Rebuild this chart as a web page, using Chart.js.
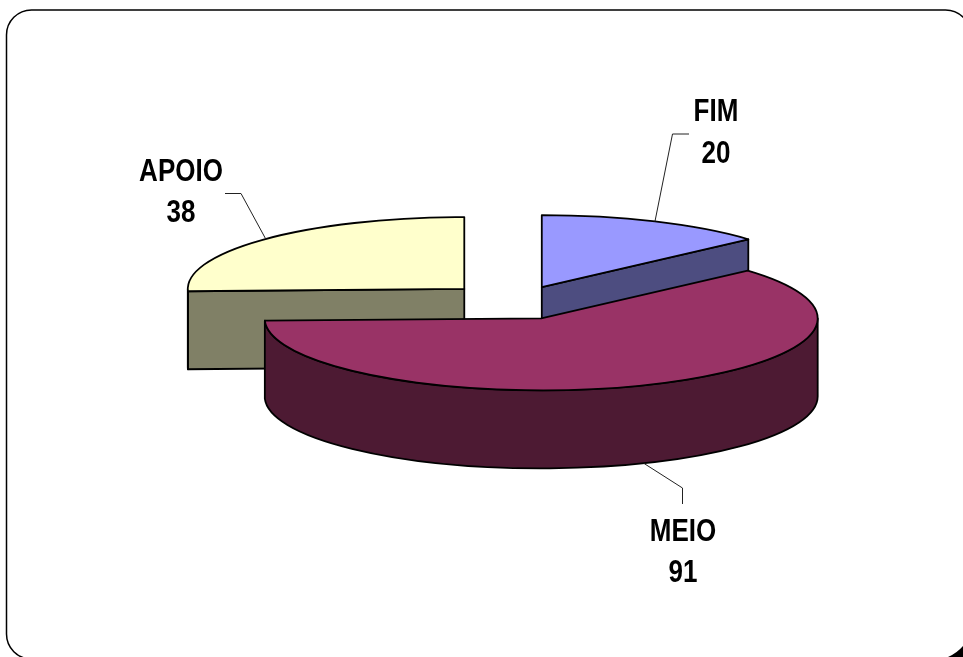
<!DOCTYPE html>
<html>
<head>
<meta charset="utf-8">
<style>
  html, body { margin: 0; padding: 0; background: #fff; }
  canvas { display: block; }
</style>
<script src="https://cdn.jsdelivr.net/npm/chart.js@4"></script>
</head>
<body>
<canvas id="chart" width="963" height="657"></canvas>
<script>
// Slices, clockwise from twelve o'clock
const categories = ['FIM', 'MEIO', 'APOIO'];
const values = [20, 91, 38];
const topColors = ['#9999FF', '#993366', '#FFFFCC'];
const wallColors = ['#4D4D80', '#4D1A33', '#808066'];
const explodeBy = [63, 68, 72];

// Leader line bends relative to each slice's anchor, and label centres
const leaderBends = [
  [[672.5, 134], [689, 134]],
  [[682.5, 488], [682.5, 504]],
  [[241, 193.5], [225, 193.5]]
];
const labelCentres = [[716, 113], [683, 532.5], [181, 172.5]];

const SQUASH = 0.26;    // vertical foreshortening of the disc
const DEPTH = 78;       // height of the extruded wall
const EDGE = 1.8;       // outline weight
const LINE_GAP = 41.5;  // distance between name and value lines
const TEXT_STRETCH = 1.18;

// Where a slice's tip lands once pulled away from the centre
function sliceGeometry(arc, i) {
  const mid = (arc.startAngle + arc.endAngle) / 2;
  const r = arc.outerRadius;
  return {
    ax: arc.x + Math.cos(mid) * explodeBy[i],
    ay: arc.y + Math.sin(mid) * explodeBy[i] * SQUASH,
    rx: r,
    ry: r * SQUASH,
    mid
  };
}

function strokeEdge(ctx) {
  ctx.strokeStyle = '#000';
  ctx.lineWidth = EDGE;
  ctx.lineJoin = 'round';
  ctx.stroke();
}

function drawRadialFace(ctx, g, angle, color) {
  const ex = g.ax + g.rx * Math.cos(angle);
  const ey = g.ay + g.ry * Math.sin(angle);
  ctx.beginPath();
  ctx.moveTo(g.ax, g.ay);
  ctx.lineTo(ex, ey);
  ctx.lineTo(ex, ey + DEPTH);
  ctx.lineTo(g.ax, g.ay + DEPTH);
  ctx.closePath();
  ctx.fillStyle = color;
  ctx.fill();
  strokeEdge(ctx);
}

function drawOuterWall(ctx, g, from, to, color) {
  ctx.beginPath();
  ctx.ellipse(g.ax, g.ay, g.rx, g.ry, 0, from, to);
  ctx.ellipse(g.ax, g.ay + DEPTH, g.rx, g.ry, 0, to, from, true);
  ctx.closePath();
  ctx.fillStyle = color;
  ctx.fill();
  strokeEdge(ctx);
}

const extrudedPie = {
  id: 'extrudedPie',
  beforeDraw(chart) {
    const ctx = chart.ctx;
    ctx.save();
    ctx.fillStyle = '#fff';
    ctx.fillRect(0, 0, chart.width, chart.height);
    // Rounded frame, running off the right and bottom of the page
    ctx.beginPath();
    ctx.roundRect(6.5, 10, 964, 649, 25);
    ctx.strokeStyle = '#000';
    ctx.lineWidth = 1.5;
    ctx.stroke();
    // Dark corner outside the frame at bottom right
    ctx.beginPath();
    ctx.moveTo(963, 657);
    ctx.lineTo(948, 657);
    ctx.quadraticCurveTo(957, 653, 963, 646);
    ctx.closePath();
    ctx.fillStyle = '#000';
    ctx.fill();
    ctx.restore();
  },
  beforeDatasetDraw(chart, args) {
    const ctx = chart.ctx;
    const arcs = args.meta.data;
    const order = [2, 0, 1];

    // Side walls first, so the top faces cover whatever they should hide
    order.forEach(i => {
      const arc = arcs[i];
      const g = sliceGeometry(arc, i);
      const s = arc.startAngle, e = arc.endAngle;
      if (-Math.cos(s) > 1e-3) drawRadialFace(ctx, g, s, wallColors[i]);
      if (Math.cos(e) > 1e-3) drawRadialFace(ctx, g, e, wallColors[i]);
      const from = Math.max(s, 0), to = Math.min(e, Math.PI);
      if (to > from) drawOuterWall(ctx, g, from, to, wallColors[i]);
    });

    // Top faces come from the library's arc elements, flattened about their tip
    order.forEach(i => {
      const arc = arcs[i];
      const g = sliceGeometry(arc, i);
      ctx.save();
      ctx.translate(g.ax, g.ay);
      ctx.scale(1, SQUASH);
      ctx.translate(-arc.x, -arc.y);
      arc.draw(ctx, chart.chartArea);
      ctx.restore();

      ctx.beginPath();
      ctx.moveTo(g.ax, g.ay);
      ctx.ellipse(g.ax, g.ay, g.rx, g.ry, 0, arc.startAngle, arc.endAngle);
      ctx.closePath();
      strokeEdge(ctx);
    });
    return false;
  },
  afterDatasetsDraw(chart) {
    const ctx = chart.ctx;
    const arcs = chart.getDatasetMeta(0).data;
    arcs.forEach((arc, i) => {
      const g = sliceGeometry(arc, i);
      const sx = g.ax + g.rx * Math.cos(g.mid);
      let sy = g.ay + g.ry * Math.sin(g.mid);
      if (Math.sin(g.mid) > 0) sy += DEPTH;

      // Leader line from the rim to the label
      ctx.beginPath();
      ctx.moveTo(sx, sy);
      leaderBends[i].forEach(p => ctx.lineTo(p[0], p[1]));
      ctx.strokeStyle = '#222';
      ctx.lineWidth = 1;
      ctx.stroke();

      // Name and value, in tall letterforms
      const [cx, cy] = labelCentres[i];
      ctx.save();
      ctx.fillStyle = '#000';
      ctx.font = 'bold 26px "Liberation Sans", Arial, sans-serif';
      ctx.textAlign = 'center';
      ctx.textBaseline = 'middle';
      ctx.translate(cx, cy);
      ctx.scale(1, TEXT_STRETCH);
      ctx.fillText(chart.data.labels[i], 0, 0);
      ctx.fillText(String(values[i]), 0, LINE_GAP / TEXT_STRETCH);
      ctx.restore();
    });
  }
};

new Chart(document.getElementById('chart'), {
  type: 'pie',
  data: {
    labels: categories,
    datasets: [{
      data: values,
      backgroundColor: topColors,
      borderWidth: 0,
      hoverOffset: 0
    }]
  },
  options: {
    responsive: false,
    animation: false,
    radius: 276.5,
    layout: { padding: { left: 69, bottom: 53 } },
    events: [],
    plugins: { legend: { display: false }, tooltip: { enabled: false } }
  },
  plugins: [extrudedPie]
});
</script>
</body>
</html>
